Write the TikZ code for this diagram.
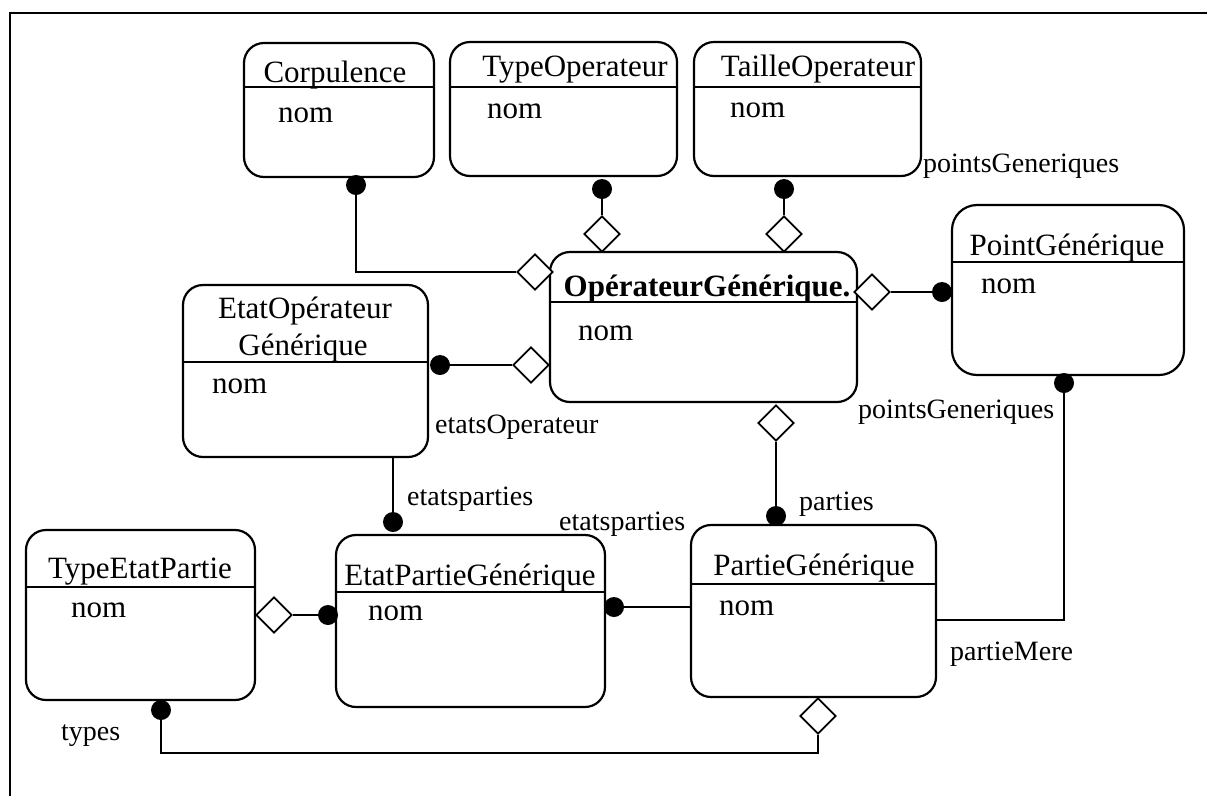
\documentclass[tikz,border=0pt]{standalone}
\usepackage{fontspec}
\setmainfont{Liberation Serif}
\usetikzlibrary{shapes.geometric}
\begin{document}
\begin{tikzpicture}[x=1pt,y=-1pt,
  box/.style={draw,line width=2.2pt,rounded corners=20pt,anchor=north west,inner sep=0pt,outer sep=0pt},
  sepl/.style={line width=1.8pt},
  conn/.style={line width=1.8pt},
  dot/.style={circle,fill=black,inner sep=0pt,minimum size=20pt},
  dia/.style={diamond,draw,fill=white,line width=1.8pt,inner sep=0pt,minimum width=36pt,minimum height=36pt},
  ttl/.style={anchor=base,font=\fontsize{31}{36}\selectfont,inner sep=0pt},
  att/.style={anchor=base west,font=\fontsize{31}{36}\selectfont,inner sep=0pt},
  lbl/.style={anchor=base west,font=\fontsize{28}{32}\selectfont,inner sep=0pt}]
\useasboundingbox (0,0) rectangle (1207,796);
% frame
\draw[line width=2.5pt] (10,796) -- (10,13) -- (1207,13);

% boxes
\node[box,minimum width=190pt,minimum height=134pt] (corp) at (244,43) {};
\node[box,minimum width=227pt,minimum height=134pt] (typ) at (450,42) {};
\node[box,minimum width=227pt,minimum height=134pt] (tai) at (694,42) {};
\node[box,minimum width=307pt,minimum height=150pt] (og) at (550,252) {};
\node[box,minimum width=232pt,minimum height=170pt,rounded corners=25pt] (pt) at (952,205) {};
\node[box,minimum width=245pt,minimum height=172pt] (eo) at (183,285) {};
\node[box,minimum width=229pt,minimum height=170pt] (tep) at (26,530) {};
\node[box,minimum width=269pt,minimum height=172pt] (epg) at (336,535) {};
\node[box,minimum width=245pt,minimum height=172pt] (pa) at (691,525) {};

% separators
\draw[sepl] (corp.west |- 0,87) -- (corp.east |- 0,87);
\draw[sepl] (typ.west |- 0,87) -- (typ.east |- 0,87);
\draw[sepl] (tai.west |- 0,87) -- (tai.east |- 0,87);
\draw[sepl] (og.west |- 0,302) -- (og.east |- 0,302);
\draw[sepl] (pt.west |- 0,262) -- (pt.east |- 0,262);
\draw[sepl] (eo.west |- 0,362) -- (eo.east |- 0,362);
\draw[sepl] (tep.west |- 0,587) -- (tep.east |- 0,587);
\draw[sepl] (epg.west |- 0,592) -- (epg.east |- 0,592);
\draw[sepl] (pa.west |- 0,584) -- (pa.east |- 0,584);

% titles
\node[ttl] (tcorp) at (335,82) {Corpulence};
\node[ttl] (ttyp) at (575,76) {TypeOperateur};
\node[ttl] (ttai) at (818,76) {TailleOperateur};
\node[ttl] (tog) at (707,296) {\textbf{OpérateurGénérique.}};
\node[ttl] (tpt) at (1067,255) {PointGénérique};
\node[ttl] (teo1) at (305,318) {EtatOpérateur};
\node[ttl] (teo2) at (303,355) {Générique};
\node[ttl] (ttep) at (140,578) {TypeEtatPartie};
\node[ttl] (tepg) at (470,585) {EtatPartieGénérique};
\node[ttl] (tpa) at (814,575) {PartieGénérique};

% attributes
\node[att] (acorp) at (278,122) {nom};
\node[att] (atyp) at (487,118) {nom};
\node[att] (atai) at (730,117) {nom};
\node[att] (aog) at (578,340) {nom};
\node[att] (apt) at (981,293) {nom};
\node[att] (aeo) at (212,393) {nom};
\node[att] (atep) at (71,617) {nom};
\node[att] (aepg) at (368,620) {nom};
\node[att] (apa) at (719,615) {nom};

% role labels
\node[lbl] (l1) at (923,172) {pointsGeneriques};
\node[lbl] (l2) at (435,433) {etatsOperateur};
\node[lbl] (l3) at (858,418) {pointsGeneriques};
\node[lbl] (l4) at (407,505) {etatsparties};
\node[lbl] (l5) at (559,530) {etatsparties};
\node[lbl] (l6) at (799,510) {parties};
\node[lbl] (l7) at (950,660) {partieMere};
\node[lbl] (l8) at (61,740) {types};

% connector ends
\node[dot] (c1) at (356,185) {};
\node[dia] (m0) at (535,272) {};
\node[dot] (c2) at (602,189) {};
\node[dia] (m2) at (602,234) {};
\node[dot] (c3) at (784,189) {};
\node[dia] (m3) at (784,234) {};
\node[dia] (m4) at (872,292) {};
\node[dot] (c4) at (942,292) {};
\node[dot] (c5) at (440,365) {};
\node[dia] (m5) at (531,365) {};
\node[dot] (c6) at (393,522) {};
\node[dia] (m7) at (776,423) {};
\node[dot] (c7) at (776,516) {};
\node[dot] (c8) at (1064,383) {};
\coordinate (k8) at (1064,620);
\node[dia] (m9) at (274,615) {};
\node[dot] (c9) at (328,615) {};
\node[dot] (c10) at (614,607) {};
\node[dia] (m11) at (818,716) {};
\coordinate (k11) at (818,753);
\node[dot] (c11) at (161,710) {};

% connectors
\draw[conn] (c1) |- (m0.west);
\draw[conn] (c2) -- (m2);
\draw[conn] (c3) -- (m3);
\draw[conn] (m4) -- (c4);
\draw[conn] (c5) -- (m5);
\draw[conn] (eo.south -| c6) -- (c6);
\draw[conn] (m7) -- (c7);
\draw[conn] (c8) -- (k8) -- (pa.east |- k8);
\draw[conn] (m9) -- (c9);
\draw[conn] (c10) -- (pa.west |- c10);
\draw[conn] (m11) -- (k11) -| (c11);
\end{tikzpicture}
\end{document}
